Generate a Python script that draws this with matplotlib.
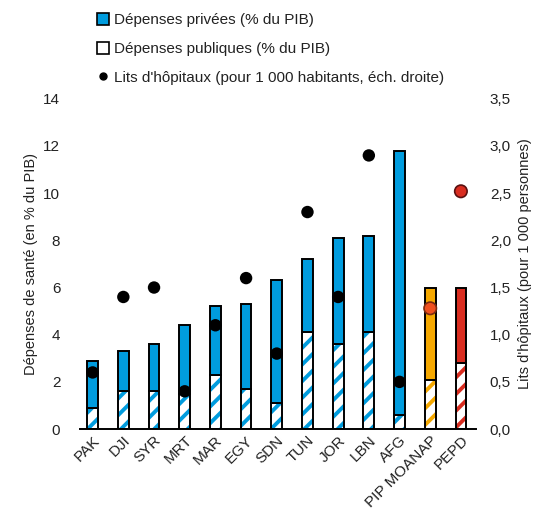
import matplotlib.pyplot as plt
from matplotlib.patches import Patch
from matplotlib.lines import Line2D
import numpy as np

plt.rcParams["font.family"] = ["Liberation Sans", "DejaVu Sans"]
plt.rcParams["hatch.linewidth"] = 2.8

# Data
countries = ["PAK", "DJI", "SYR", "MRT", "MAR", "EGY", "SDN", "TUN", "JOR",
             "LBN", "AFG", "PIP MOANAP", "PEPD"]
total_spend = [2.9, 3.3, 3.6, 4.4, 5.2, 5.3, 6.3, 7.2, 8.1, 8.2, 11.8, 6.0, 6.0]
public_spend = [0.9, 1.6, 1.6, 1.5, 2.3, 1.7, 1.1, 4.1, 3.6, 4.1, 0.6, 2.1, 2.8]
hospital_beds = [0.6, 1.4, 1.5, 0.4, 1.1, 1.6, 0.8, 2.3, 1.4, 2.9, 0.5, 1.28, 2.52]

blue = "#009CDE"
orange = "#F5A800"
red = "#D92D20"
bar_colors = [blue] * 11 + [orange, red]
dot_colors = ["black"] * 11 + ["#F0501E", red]

x = np.arange(len(countries))
private_spend = np.array(total_spend) - np.array(public_spend)
w = 0.35
txt = "#222222"

fig = plt.figure(figsize=(5.39, 5.12), dpi=100)
ax = fig.add_axes([0.148, 0.162, 0.735, 0.645])

# public spending: hatched part
ax.bar(x, public_spend, w, color="white", edgecolor=bar_colors, hatch="//",
       linewidth=0, zorder=2)
ax.bar(x, public_spend, w, fill=False, edgecolor="black", linewidth=1.4, zorder=3)
# private spending on top
ax.bar(x, private_spend, w, bottom=public_spend, color=bar_colors,
       edgecolor="black", linewidth=1.4, zorder=3)

ax.set_ylim(0, 14)
ax.set_yticks(range(0, 15, 2))
ax.set_xlim(-0.42, 12.49)
ax.set_xticks(x)
ax.set_xticklabels(countries, rotation=45, ha="right", rotation_mode="anchor",
                   fontsize=10.5)
ax.tick_params(axis="both", length=0, labelsize=11, colors=txt)
ax.tick_params(axis="y", pad=14)
ax.tick_params(axis="x", pad=3)
for s in ["top", "right", "left"]:
    ax.spines[s].set_visible(False)
ax.spines["bottom"].set_linewidth(1.4)
ax.set_ylabel("Dépenses de santé (en % du PIB)", fontsize=10.5, color=txt,
              labelpad=4)

ax2 = ax.twinx()
ax2.scatter(x, hospital_beds, s=80, c=dot_colors,
            edgecolors=["black"] * 11 + ["#7a2a10", "#5a1010"],
            linewidths=[0] * 11 + [1.2, 1.2], zorder=5)
ax2.set_ylim(0, 3.5)
ax2.set_yticks(np.arange(0, 3.51, 0.5))
ax2.set_yticklabels([f"{v:.1f}".replace(".", ",") for v in np.arange(0, 3.51, 0.5)])
ax2.tick_params(axis="y", length=0, labelsize=11, colors=txt, pad=10)
for s in ["top", "right", "left", "bottom"]:
    ax2.spines[s].set_visible(False)
ax2.set_ylabel("Lits d'hôpitaux (pour 1 000 personnes)", fontsize=10.5,
               color=txt, labelpad=5)

handles = [
    Patch(facecolor=blue, edgecolor="black", linewidth=1.2),
    Patch(facecolor="white", edgecolor="black", linewidth=1.2),
    Line2D([], [], marker="o", color="black", linestyle="none", markersize=5),
]
labels = ["Dépenses privées (% du PIB)", "Dépenses publiques (% du PIB)",
          "Lits d'hôpitaux (pour 1 000 habitants, éch. droite)"]
fig.legend(handles, labels, loc="upper left", bbox_to_anchor=(0.16, 0.995),
           frameon=False, fontsize=11, handlelength=0.8, handleheight=0.8,
           handletextpad=0.3, labelspacing=0.95, borderaxespad=0.3,
           labelcolor=txt)

fig.savefig("out.png", dpi=100)
